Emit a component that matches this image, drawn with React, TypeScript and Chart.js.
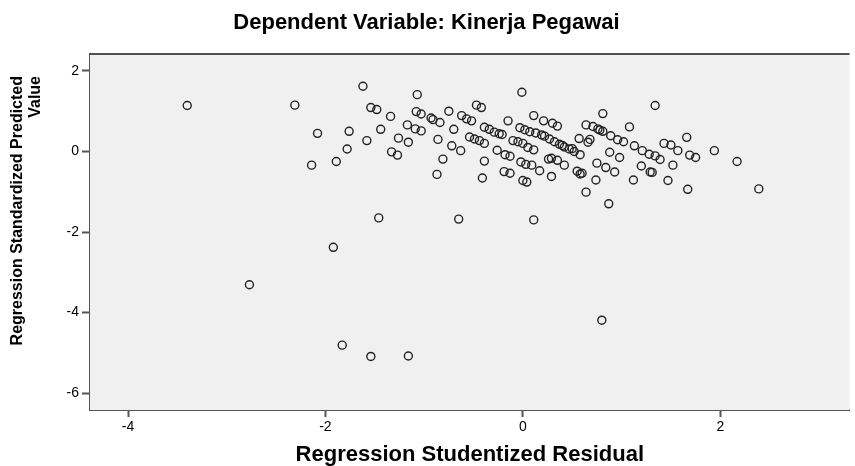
import React, { useEffect, useRef } from "react";
import { Chart, registerables } from "chart.js";

Chart.register(...registerables);

const chartTitle = "Dependent Variable: Kinerja Pegawai";
const xTitle = "Regression Studentized Residual";
const yTitle = ["Regression Standardized Predicted", "Value"];
const xTickValues = [-4, -2, 0, 2];
const yTickValues = [-6, -4, -2, 0, 2];

// Regression Studentized Residual (x)
const residual = [
  -3.4, -2.31, -2.08, -2.14, -1.89, -1.92, -2.77, -1.83, -1.54, -1.16, 0.8, -1.46, -0.65, 0.11,
  -1.62, -1.07, -1.54, -1.48, -1.34, -1.08, -1.03, -0.93, -0.91, -0.84, -0.75, -1.76, -1.44, -1.17,
  -1.09, -1.03, -1.58, -1.26, -1.16, -0.86, -1.78, -1.33, -1.27, -0.81, -0.87,
  -0.01, -0.47, -0.42, -0.62, -0.57, -0.52, -0.15, 0.11, 0.21, -0.39, -0.34, -0.29, -0.24, -0.21,
  -0.7, -0.03, 0.02, 0.07, 0.13, 0.19, -0.54, -0.49, -0.44, -0.39, -0.72, -0.63, -0.26, -0.1, -0.05,
  0.0, 0.05, 0.11, -0.39, -0.18, -0.13, -0.02, 0.03, 0.09, 0.17, 0.26, -0.19, -0.13, -0.41, 0.0, 0.04,
  0.81, 1.08, 1.34, 0.3, 0.35, 0.64, 0.71, 0.76, 0.81, 0.89, 0.96, 1.02, 1.13, 1.21, 1.28,
  0.27, 0.32, 0.37, 0.42, 0.47, 0.52, 0.58, 0.57, 0.66, 0.88, 0.98, 0.29, 0.35, 0.42, 0.75, 0.84,
  0.93, 0.55, 0.6, 0.29, 0.74, 0.64, 0.87, 1.12, 1.2, 1.29, 1.39, 1.43, 1.5, 1.57, 1.66, 1.69, 1.75,
  1.94, 2.17, 2.39, 1.67, 1.47, 1.52, 1.31, 0.78, 0.22, 0.4, 0.5, 1.34, 0.58, 0.68,
];

// Regression Standardized Predicted Value (y)
const predicted = [
  1.14, 1.15, 0.45, -0.34, -0.25, -2.38, -3.31, -4.81, -5.09, -5.08, -4.19, -1.65, -1.68, -1.7,
  1.62, 1.41, 1.09, 1.04, 0.87, 0.99, 0.93, 0.83, 0.79, 0.72, 1.0, 0.5, 0.55, 0.66,
  0.56, 0.51, 0.27, 0.33, 0.23, 0.3, 0.06, -0.01, -0.09, -0.19, -0.57,
  1.47, 1.15, 1.09, 0.89, 0.81, 0.76, 0.76, 0.89, 0.76, 0.6, 0.55, 0.48, 0.44, 0.42,
  0.55, 0.59, 0.54, 0.49, 0.46, 0.41, 0.36, 0.31, 0.27, 0.2, 0.14, 0.02, 0.03, 0.27, 0.24,
  0.2, 0.1, 0.04, -0.24, -0.08, -0.12, -0.26, -0.32, -0.34, -0.48, -0.19, -0.5, -0.54, -0.66, -0.72, -0.76,
  0.94, 0.61, 1.14, 0.7, 0.63, 0.66, 0.62, 0.56, 0.5, 0.39, 0.29, 0.24, 0.14, 0.02, -0.07,
  0.31, 0.24, 0.18, 0.11, 0.06, 0.0, -0.08, 0.32, 0.23, -0.02, -0.15, -0.17, -0.22, -0.34, -0.29, -0.4,
  -0.51, -0.49, -0.54, -0.62, -0.71, -1.01, -1.3, -0.71, -0.36, -0.51, -0.2, 0.2, 0.16, 0.02, 0.35, -0.09, -0.15,
  0.02, -0.25, -0.93, -0.94, -0.72, -0.34, -0.52, 0.53, 0.38, 0.15, 0.07, -0.11, -0.56, 0.3,
];

const FONT = "'Liberation Sans', Arial, sans-serif";

const plotFrame = {
  id: "plotFrame",
  beforeDatasetsDraw(chart: any) {
    const { ctx, chartArea } = chart;
    ctx.save();
    ctx.fillStyle = "#f0f0f0";
    ctx.fillRect(chartArea.left, chartArea.top, chartArea.right - chartArea.left, chartArea.bottom - chartArea.top);
    ctx.restore();
  },
  afterDraw(chart: any) {
    const { ctx, chartArea } = chart;
    ctx.save();
    ctx.strokeStyle = "#1a1a1a";
    ctx.lineWidth = 1.5;
    ctx.beginPath();
    ctx.moveTo(chartArea.left, chartArea.top);
    ctx.lineTo(chartArea.right, chartArea.top);
    ctx.stroke();
    // y-axis title: two lines, rotated, both lines end-aligned toward the top
    ctx.fillStyle = "#000";
    ctx.font = "bold 16px " + FONT;
    ctx.textAlign = "right";
    ctx.textBaseline = "middle";
    const endY = chartArea.top + 22;
    yTitle.forEach((line, i) => {
      ctx.save();
      ctx.translate(18 + i * 18, endY);
      ctx.rotate(-Math.PI / 2);
      ctx.fillText(line, 0, 0);
      ctx.restore();
    });
    ctx.restore();
  },
};

export default function App() {
  const ref = useRef<HTMLCanvasElement | null>(null);

  useEffect(() => {
    document.body.style.margin = "0";
    const points = residual.map((x, i) => ({ x, y: predicted[i] }));
    const chart = new Chart(ref.current as HTMLCanvasElement, {
      type: "scatter",
      data: {
        datasets: [
          {
            data: points,
            pointStyle: "circle",
            pointRadius: 4,
            pointBorderWidth: 1.4,
            borderColor: "#222",
            backgroundColor: "rgba(0,0,0,0)",
          },
        ],
      },
      options: {
        animation: false,
        responsive: false,
        layout: { padding: { left: 0, right: 2, top: 0, bottom: 0 } },
        plugins: {
          legend: { display: false },
          tooltip: { enabled: false },
          title: {
            display: true,
            text: chartTitle,
            color: "#000",
            font: { family: FONT, size: 22, weight: "bold", lineHeight: 1 },
            padding: { top: 12, bottom: 20 },
          },
        },
        scales: {
          x: {
            type: "linear",
            min: -4.385,
            max: 3.31,
            afterBuildTicks: (s: any) => {
              s.ticks = xTickValues.map((v) => ({ value: v }));
            },
            afterFit: (s: any) => {
              s.height = 56;
            },
            grid: { drawOnChartArea: false, drawTicks: true, tickLength: 7, tickColor: "#555", tickWidth: 2 },
            border: { display: true, color: "#555", width: 2 },
            ticks: { color: "#000", font: { family: FONT, size: 14 }, padding: 2, callback: (v: any) => String(v) },
            title: {
              display: true,
              text: xTitle,
              color: "#000",
              font: { family: FONT, size: 22, weight: "bold", lineHeight: 1 },
              padding: { top: 0, bottom: 0 },
            },
          },
          y: {
            type: "linear",
            min: -6.42,
            max: 2.42,
            afterBuildTicks: (s: any) => {
              s.ticks = yTickValues.map((v) => ({ value: v }));
            },
            afterFit: (s: any) => {
              s.width = 90;
            },
            grid: { drawOnChartArea: false, drawTicks: true, tickLength: 8, tickColor: "#555", tickWidth: 2 },
            border: { display: true, color: "#555", width: 2 },
            ticks: { color: "#000", font: { family: FONT, size: 14 }, padding: 3, callback: (v: any) => String(v) },
            title: { display: false },
          },
        },
      },
      plugins: [plotFrame],
    });
    return () => chart.destroy();
  }, []);

  return (
    <div style={{ position: "absolute", left: 0, top: 0, width: 855, height: 466 }}>
      <canvas ref={ref} width={855} height={466} style={{ display: "block" }} />
    </div>
  );
}
